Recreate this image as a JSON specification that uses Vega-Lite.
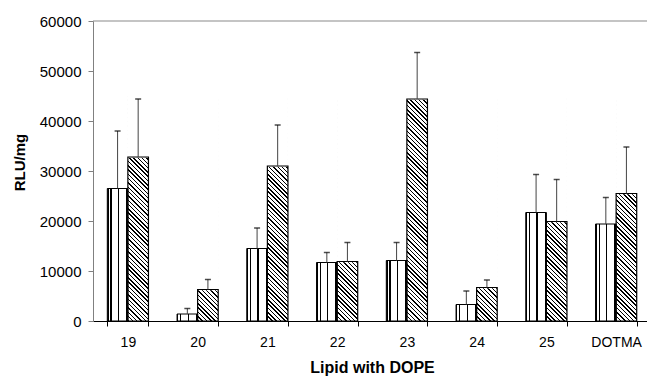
{
  "$schema": "https://vega.github.io/schema/vega-lite/v6.json",
  "width": 554,
  "height": 300,
  "autosize": {"type": "none"},
  "padding": {"left": 93, "top": 21, "right": 0, "bottom": 62},
  "background": "white",
  "config": {"view": {"stroke": null}, "font": "Liberation Sans"},
  "data": {
    "values": [
      {"lipid": "19", "series": "A", "value": 26500, "upper": 38000},
      {"lipid": "19", "series": "B", "value": 32800, "upper": 44400},
      {"lipid": "20", "series": "A", "value": 1400, "upper": 2500},
      {"lipid": "20", "series": "B", "value": 6300, "upper": 8300},
      {"lipid": "21", "series": "A", "value": 14500, "upper": 18600},
      {"lipid": "21", "series": "B", "value": 31000, "upper": 39200},
      {"lipid": "22", "series": "A", "value": 11700, "upper": 13700},
      {"lipid": "22", "series": "B", "value": 11900, "upper": 15700},
      {"lipid": "23", "series": "A", "value": 12100, "upper": 15700},
      {"lipid": "23", "series": "B", "value": 44400, "upper": 53700},
      {"lipid": "24", "series": "A", "value": 3300, "upper": 6000},
      {"lipid": "24", "series": "B", "value": 6700, "upper": 8200},
      {"lipid": "25", "series": "A", "value": 21700, "upper": 29300},
      {"lipid": "25", "series": "B", "value": 19900, "upper": 28300},
      {"lipid": "DOTMA", "series": "A", "value": 19400, "upper": 24700},
      {"lipid": "DOTMA", "series": "B", "value": 25500, "upper": 34800}
    ]
  },
  "layer": [
    {
      "encoding": {
        "x": {
          "field": "lipid", "type": "nominal",
          "sort": ["19", "20", "21", "22", "23", "24", "25", "DOTMA"],
          "scale": {"range": [0, 558], "paddingInner": 0.41, "paddingOuter": 0.205},
          "axis": {
            "title": "Lipid with DOPE", "labelAngle": 0, "tickBand": "extent",
            "domainColor": "#000", "tickColor": "#000", "tickSize": 5,
            "labelFontSize": 14, "labelColor": "#000", "labelPadding": 9,
            "titleFontSize": 16, "titleFontWeight": "bold", "titleColor": "#000", "titlePadding": 10
          }
        },
        "xOffset": {"field": "series", "type": "nominal", "scale": {"paddingInner": 0, "paddingOuter": 0}}
      },
      "layer": [
        {
          "transform": [{"filter": "datum.series === 'B'"}],
          "mark": {
            "type": "bar",
            "fill": {
              "gradient": "linear", "x1": 0, "y1": 1, "x2": 0.099, "y2": -0.0822,
              "stops": [
                {"offset": 0, "color": "#000"}, {"offset": 0.00614, "color": "#000"}, {"offset": 0.00614, "color": "#fff"}, {"offset": 0.01754, "color": "#fff"},
                {"offset": 0.01754, "color": "#000"}, {"offset": 0.02368, "color": "#000"}, {"offset": 0.02368, "color": "#fff"}, {"offset": 0.03509, "color": "#fff"},
                {"offset": 0.03509, "color": "#000"}, {"offset": 0.04123, "color": "#000"}, {"offset": 0.04123, "color": "#fff"}, {"offset": 0.05263, "color": "#fff"},
                {"offset": 0.05263, "color": "#000"}, {"offset": 0.05877, "color": "#000"}, {"offset": 0.05877, "color": "#fff"}, {"offset": 0.07018, "color": "#fff"},
                {"offset": 0.07018, "color": "#000"}, {"offset": 0.07632, "color": "#000"}, {"offset": 0.07632, "color": "#fff"}, {"offset": 0.08772, "color": "#fff"},
                {"offset": 0.08772, "color": "#000"}, {"offset": 0.09386, "color": "#000"}, {"offset": 0.09386, "color": "#fff"}, {"offset": 0.10526, "color": "#fff"},
                {"offset": 0.10526, "color": "#000"}, {"offset": 0.1114, "color": "#000"}, {"offset": 0.1114, "color": "#fff"}, {"offset": 0.12281, "color": "#fff"},
                {"offset": 0.12281, "color": "#000"}, {"offset": 0.12895, "color": "#000"}, {"offset": 0.12895, "color": "#fff"}, {"offset": 0.14035, "color": "#fff"},
                {"offset": 0.14035, "color": "#000"}, {"offset": 0.14649, "color": "#000"}, {"offset": 0.14649, "color": "#fff"}, {"offset": 0.15789, "color": "#fff"},
                {"offset": 0.15789, "color": "#000"}, {"offset": 0.16403, "color": "#000"}, {"offset": 0.16403, "color": "#fff"}, {"offset": 0.17544, "color": "#fff"},
                {"offset": 0.17544, "color": "#000"}, {"offset": 0.18158, "color": "#000"}, {"offset": 0.18158, "color": "#fff"}, {"offset": 0.19298, "color": "#fff"},
                {"offset": 0.19298, "color": "#000"}, {"offset": 0.19912, "color": "#000"}, {"offset": 0.19912, "color": "#fff"}, {"offset": 0.21053, "color": "#fff"},
                {"offset": 0.21053, "color": "#000"}, {"offset": 0.21667, "color": "#000"}, {"offset": 0.21667, "color": "#fff"}, {"offset": 0.22807, "color": "#fff"},
                {"offset": 0.22807, "color": "#000"}, {"offset": 0.23421, "color": "#000"}, {"offset": 0.23421, "color": "#fff"}, {"offset": 0.24561, "color": "#fff"},
                {"offset": 0.24561, "color": "#000"}, {"offset": 0.25175, "color": "#000"}, {"offset": 0.25175, "color": "#fff"}, {"offset": 0.26316, "color": "#fff"},
                {"offset": 0.26316, "color": "#000"}, {"offset": 0.2693, "color": "#000"}, {"offset": 0.2693, "color": "#fff"}, {"offset": 0.2807, "color": "#fff"},
                {"offset": 0.2807, "color": "#000"}, {"offset": 0.28684, "color": "#000"}, {"offset": 0.28684, "color": "#fff"}, {"offset": 0.29825, "color": "#fff"},
                {"offset": 0.29825, "color": "#000"}, {"offset": 0.30439, "color": "#000"}, {"offset": 0.30439, "color": "#fff"}, {"offset": 0.31579, "color": "#fff"},
                {"offset": 0.31579, "color": "#000"}, {"offset": 0.32193, "color": "#000"}, {"offset": 0.32193, "color": "#fff"}, {"offset": 0.33333, "color": "#fff"},
                {"offset": 0.33333, "color": "#000"}, {"offset": 0.33947, "color": "#000"}, {"offset": 0.33947, "color": "#fff"}, {"offset": 0.35088, "color": "#fff"},
                {"offset": 0.35088, "color": "#000"}, {"offset": 0.35702, "color": "#000"}, {"offset": 0.35702, "color": "#fff"}, {"offset": 0.36842, "color": "#fff"},
                {"offset": 0.36842, "color": "#000"}, {"offset": 0.37456, "color": "#000"}, {"offset": 0.37456, "color": "#fff"}, {"offset": 0.38596, "color": "#fff"},
                {"offset": 0.38596, "color": "#000"}, {"offset": 0.3921, "color": "#000"}, {"offset": 0.3921, "color": "#fff"}, {"offset": 0.40351, "color": "#fff"},
                {"offset": 0.40351, "color": "#000"}, {"offset": 0.40965, "color": "#000"}, {"offset": 0.40965, "color": "#fff"}, {"offset": 0.42105, "color": "#fff"},
                {"offset": 0.42105, "color": "#000"}, {"offset": 0.42719, "color": "#000"}, {"offset": 0.42719, "color": "#fff"}, {"offset": 0.4386, "color": "#fff"},
                {"offset": 0.4386, "color": "#000"}, {"offset": 0.44474, "color": "#000"}, {"offset": 0.44474, "color": "#fff"}, {"offset": 0.45614, "color": "#fff"},
                {"offset": 0.45614, "color": "#000"}, {"offset": 0.46228, "color": "#000"}, {"offset": 0.46228, "color": "#fff"}, {"offset": 0.47368, "color": "#fff"},
                {"offset": 0.47368, "color": "#000"}, {"offset": 0.47982, "color": "#000"}, {"offset": 0.47982, "color": "#fff"}, {"offset": 0.49123, "color": "#fff"},
                {"offset": 0.49123, "color": "#000"}, {"offset": 0.49737, "color": "#000"}, {"offset": 0.49737, "color": "#fff"}, {"offset": 0.50877, "color": "#fff"},
                {"offset": 0.50877, "color": "#000"}, {"offset": 0.51491, "color": "#000"}, {"offset": 0.51491, "color": "#fff"}, {"offset": 0.52632, "color": "#fff"},
                {"offset": 0.52632, "color": "#000"}, {"offset": 0.53246, "color": "#000"}, {"offset": 0.53246, "color": "#fff"}, {"offset": 0.54386, "color": "#fff"},
                {"offset": 0.54386, "color": "#000"}, {"offset": 0.55, "color": "#000"}, {"offset": 0.55, "color": "#fff"}, {"offset": 0.5614, "color": "#fff"},
                {"offset": 0.5614, "color": "#000"}, {"offset": 0.56754, "color": "#000"}, {"offset": 0.56754, "color": "#fff"}, {"offset": 0.57895, "color": "#fff"},
                {"offset": 0.57895, "color": "#000"}, {"offset": 0.58509, "color": "#000"}, {"offset": 0.58509, "color": "#fff"}, {"offset": 0.59649, "color": "#fff"},
                {"offset": 0.59649, "color": "#000"}, {"offset": 0.60263, "color": "#000"}, {"offset": 0.60263, "color": "#fff"}, {"offset": 0.61404, "color": "#fff"},
                {"offset": 0.61404, "color": "#000"}, {"offset": 0.62018, "color": "#000"}, {"offset": 0.62018, "color": "#fff"}, {"offset": 0.63158, "color": "#fff"},
                {"offset": 0.63158, "color": "#000"}, {"offset": 0.63772, "color": "#000"}, {"offset": 0.63772, "color": "#fff"}, {"offset": 0.64912, "color": "#fff"},
                {"offset": 0.64912, "color": "#000"}, {"offset": 0.65526, "color": "#000"}, {"offset": 0.65526, "color": "#fff"}, {"offset": 0.66667, "color": "#fff"},
                {"offset": 0.66667, "color": "#000"}, {"offset": 0.67281, "color": "#000"}, {"offset": 0.67281, "color": "#fff"}, {"offset": 0.68421, "color": "#fff"},
                {"offset": 0.68421, "color": "#000"}, {"offset": 0.69035, "color": "#000"}, {"offset": 0.69035, "color": "#fff"}, {"offset": 0.70175, "color": "#fff"},
                {"offset": 0.70175, "color": "#000"}, {"offset": 0.70789, "color": "#000"}, {"offset": 0.70789, "color": "#fff"}, {"offset": 0.7193, "color": "#fff"},
                {"offset": 0.7193, "color": "#000"}, {"offset": 0.72544, "color": "#000"}, {"offset": 0.72544, "color": "#fff"}, {"offset": 0.73684, "color": "#fff"},
                {"offset": 0.73684, "color": "#000"}, {"offset": 0.74298, "color": "#000"}, {"offset": 0.74298, "color": "#fff"}, {"offset": 0.75439, "color": "#fff"},
                {"offset": 0.75439, "color": "#000"}, {"offset": 0.76053, "color": "#000"}, {"offset": 0.76053, "color": "#fff"}, {"offset": 0.77193, "color": "#fff"},
                {"offset": 0.77193, "color": "#000"}, {"offset": 0.77807, "color": "#000"}, {"offset": 0.77807, "color": "#fff"}, {"offset": 0.78947, "color": "#fff"},
                {"offset": 0.78947, "color": "#000"}, {"offset": 0.79561, "color": "#000"}, {"offset": 0.79561, "color": "#fff"}, {"offset": 0.80702, "color": "#fff"},
                {"offset": 0.80702, "color": "#000"}, {"offset": 0.81316, "color": "#000"}, {"offset": 0.81316, "color": "#fff"}, {"offset": 0.82456, "color": "#fff"},
                {"offset": 0.82456, "color": "#000"}, {"offset": 0.8307, "color": "#000"}, {"offset": 0.8307, "color": "#fff"}, {"offset": 0.84211, "color": "#fff"},
                {"offset": 0.84211, "color": "#000"}, {"offset": 0.84825, "color": "#000"}, {"offset": 0.84825, "color": "#fff"}, {"offset": 0.85965, "color": "#fff"},
                {"offset": 0.85965, "color": "#000"}, {"offset": 0.86579, "color": "#000"}, {"offset": 0.86579, "color": "#fff"}, {"offset": 0.87719, "color": "#fff"},
                {"offset": 0.87719, "color": "#000"}, {"offset": 0.88333, "color": "#000"}, {"offset": 0.88333, "color": "#fff"}, {"offset": 0.89474, "color": "#fff"},
                {"offset": 0.89474, "color": "#000"}, {"offset": 0.90088, "color": "#000"}, {"offset": 0.90088, "color": "#fff"}, {"offset": 0.91228, "color": "#fff"},
                {"offset": 0.91228, "color": "#000"}, {"offset": 0.91842, "color": "#000"}, {"offset": 0.91842, "color": "#fff"}, {"offset": 0.92982, "color": "#fff"},
                {"offset": 0.92982, "color": "#000"}, {"offset": 0.93596, "color": "#000"}, {"offset": 0.93596, "color": "#fff"}, {"offset": 0.94737, "color": "#fff"},
                {"offset": 0.94737, "color": "#000"}, {"offset": 0.95351, "color": "#000"}, {"offset": 0.95351, "color": "#fff"}, {"offset": 0.96491, "color": "#fff"},
                {"offset": 0.96491, "color": "#000"}, {"offset": 0.97105, "color": "#000"}, {"offset": 0.97105, "color": "#fff"}, {"offset": 0.98246, "color": "#fff"},
                {"offset": 0.98246, "color": "#000"}, {"offset": 0.9886, "color": "#000"}, {"offset": 0.9886, "color": "#fff"}, {"offset": 1, "color": "#fff"}
              ]
            }
          },
          "encoding": {
            "y": {
              "datum": 45000, "type": "quantitative",
              "scale": {"domain": [0, 60000]},
              "title": "RLU/mg",
              "axis": {
                "values": [0, 10000, 20000, 30000, 40000, 50000, 60000], "format": "d", "grid": false,
                "domainColor": "#808080", "tickColor": "#808080", "tickSize": 5,
                "labelFontSize": 15, "labelColor": "#000", "labelPadding": 7,
                "titleFontSize": 15, "titleFontWeight": "bold", "titleColor": "#000", "titlePadding": 12,
                "titleY": 141
              }
            }
          }
        },
        {
          "transform": [{"filter": "datum.series === 'B'"}],
          "mark": {"type": "bar", "fill": "#fff", "stroke": "#fff", "strokeWidth": 1.5},
          "encoding": {
            "y": {"field": "value", "type": "quantitative", "title": "RLU/mg"},
            "y2": {"datum": 45000}
          }
        },
        {
          "transform": [{"filter": "datum.series === 'A'"}],
          "mark": {
            "type": "bar", "stroke": "#000", "strokeWidth": 1,
            "fill": {
              "gradient": "linear", "x1": 0, "y1": 0, "x2": 1, "y2": 0,
              "stops": [
                {"offset": 0, "color": "#000"}, {"offset": 0.06, "color": "#000"}, {"offset": 0.06, "color": "#fff"},
                {"offset": 0.15, "color": "#fff"}, {"offset": 0.15, "color": "#000"}, {"offset": 0.21, "color": "#000"}, {"offset": 0.21, "color": "#fff"},
                {"offset": 0.51, "color": "#fff"}, {"offset": 0.51, "color": "#000"}, {"offset": 0.57, "color": "#000"}, {"offset": 0.57, "color": "#fff"},
                {"offset": 0.92, "color": "#fff"}, {"offset": 0.92, "color": "#000"}, {"offset": 1, "color": "#000"}
              ]
            }
          },
          "encoding": {
            "y": {"field": "value", "type": "quantitative", "title": "RLU/mg"}
          }
        },
        {
          "transform": [{"filter": "datum.series === 'B'"}],
          "mark": {"type": "bar", "fill": "transparent", "stroke": "#000", "strokeWidth": 1.2},
          "encoding": {
            "y": {"field": "value", "type": "quantitative", "title": "RLU/mg"}
          }
        },
        {
          "mark": {"type": "rule", "color": "#444", "strokeWidth": 1},
          "encoding": {
            "y": {"field": "value", "type": "quantitative", "title": "RLU/mg"},
            "y2": {"field": "upper"}
          }
        },
        {
          "mark": {"type": "tick", "color": "#000", "size": 6, "thickness": 1.5, "orient": "horizontal"},
          "encoding": {
            "y": {"field": "upper", "type": "quantitative", "title": "RLU/mg"}
          }
        }
      ]
    },
    {
      "data": {"values": [{"top": 60000}]},
      "mark": {"type": "rule", "color": "#8a8a8a", "strokeWidth": 1.2},
      "encoding": {"y": {"field": "top", "type": "quantitative", "title": "RLU/mg"}}
    }
  ]
}
